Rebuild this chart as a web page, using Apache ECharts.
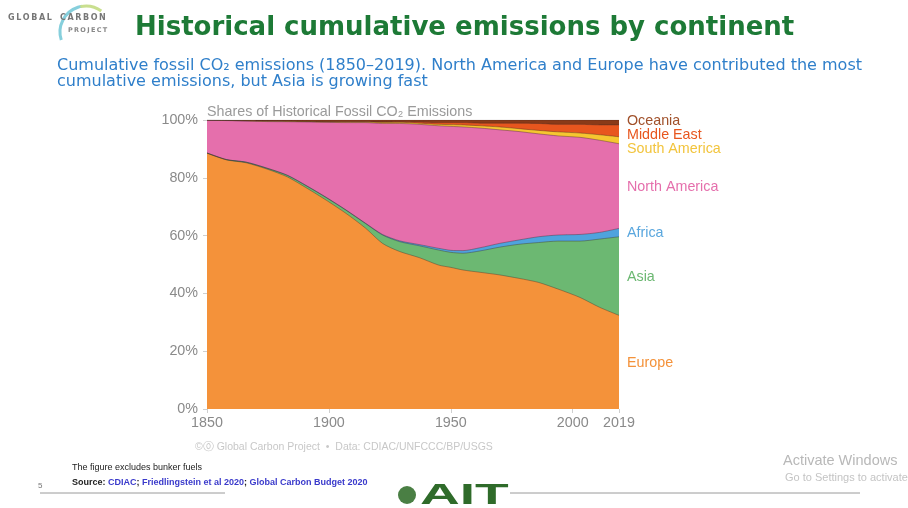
<!DOCTYPE html>
<html>
<head>
<meta charset="utf-8">
<script src="https://cdn.jsdelivr.net/npm/echarts@6/dist/echarts.min.js"></script>
<style>
  html, body { margin: 0; padding: 0; background: #fff; }
  #chart { width: 908px; height: 508px; }
</style>
</head>
<body>
<div id="chart"></div>
<script>
// Shares (%) of cumulative fossil CO2 emissions since 1850, by continent
const years        = [1850, 1858, 1866, 1875, 1883, 1891, 1899, 1907, 1915, 1922, 1929, 1937, 1945, 1950, 1955, 1962, 1970, 1978, 1986, 1994, 2003, 2011, 2019];
const europe       = [88.5, 86.2, 85.2, 82.9, 80.3, 76.4, 72.2, 67.7, 62.6, 57.3, 54.5, 52.4, 49.8, 49.0, 48.1, 47.3, 46.4, 45.2, 43.8, 41.5, 38.6, 35.2, 32.4];
const asia         = [0.1, 0.1, 0.2, 0.3, 0.5, 0.7, 0.9, 1.1, 1.6, 2.9, 3.4, 4.1, 5.2, 5.2, 5.8, 7.4, 9.6, 11.8, 13.8, 16.6, 19.5, 23.6, 27.2];
const africa       = [0, 0, 0.05, 0.05, 0.1, 0.1, 0.1, 0.1, 0.1, 0.2, 0.3, 0.4, 0.6, 0.7, 0.9, 1.1, 1.3, 1.5, 2.0, 2.1, 2.3, 2.3, 2.9];
const northAmerica = [11.3, 13.5, 14.2, 16.2, 18.5, 22.1, 26.0, 30.2, 34.8, 38.4, 40.6, 41.6, 42.4, 42.9, 42.8, 41.4, 39.3, 37.5, 35.6, 34.3, 33.6, 31.9, 29.3];
const southAmerica = [0, 0.05, 0.1, 0.2, 0.2, 0.2, 0.2, 0.3, 0.3, 0.4, 0.4, 0.4, 0.5, 0.6, 0.7, 0.8, 1.0, 1.0, 1.2, 1.4, 1.5, 1.9, 2.4];
const middleEast   = [0, 0, 0, 0, 0, 0, 0, 0, 0, 0.1, 0.2, 0.4, 0.6, 0.7, 0.8, 0.9, 1.3, 1.9, 2.4, 2.6, 3.0, 3.4, 4.1];
const oceania      = [0.1, 0.15, 0.25, 0.35, 0.4, 0.5, 0.6, 0.6, 0.6, 0.7, 0.6, 0.7, 0.9, 0.9, 0.9, 1.1, 1.1, 1.1, 1.2, 1.5, 1.5, 1.7, 1.7];

const xTickLabels = [1850, 1900, 1950, 2000, 2019];

// Layers listed from the bottom of the stack upwards
const layers = [
  { name: 'Europe',        values: europe,       color: '#f4923a', labelColor: '#f4923a', labelY: 362 },
  { name: 'Asia',          values: asia,         color: '#6cb872', labelColor: '#6cb872', labelY: 276 },
  { name: 'Africa',        values: africa,       color: '#4fa3dd', labelColor: '#5aa7de', labelY: 232 },
  { name: 'North America', values: northAmerica, color: '#e56fac', labelColor: '#e56fac', labelY: 186 },
  { name: 'South America', values: southAmerica, color: '#f6c630', labelColor: '#f2c43c', labelY: 148 },
  { name: 'Middle East',   values: middleEast,   color: '#e8561e', labelColor: '#e8561e', labelY: 134 },
  { name: 'Oceania',       values: oceania,      color: '#8a3a18', labelColor: '#a0502a', labelY: 120 }
];

// Running totals give the upper edge of each band; each band is filled down
// to 0% and painted top band first, so the lower bands cover the rest.
const running = years.map(() => 0);
const bandSeries = layers.map(l => {
  const top = l.values.map((v, i) => (running[i] += v));
  return {
    name: l.name,
    type: 'line',
    smooth: 0.25,
    symbol: 'none',
    data: years.map((y, i) => [y, +top[i].toFixed(3)]),
    lineStyle: { width: 0.7, color: 'rgba(60,40,40,0.55)' },
    areaStyle: { color: l.color, opacity: 1, origin: 'start' },
    emphasis: { disabled: true },
    silent: true
  };
}).reverse();

const chart = echarts.init(document.getElementById('chart'), null, { renderer: 'canvas' });

const sans = '"Liberation Sans", Arial, Helvetica, sans-serif';
const verdana = '"DejaVu Sans", Verdana, sans-serif';
const narrow = '"Liberation Sans Narrow", "Liberation Sans", sans-serif';
const spaced = s => s.split('').join('\u2009');

const graphics = [
  // Slide heading
  { type: 'text', left: 135, top: 15, style: { text: 'Historical cumulative emissions by continent', font: 'bold 26px ' + verdana, fill: '#1d7a36' } },
  { type: 'text', left: 57, top: 58, style: { text: 'Cumulative fossil CO\u2082 emissions (1850\u20132019). North America and Europe have contributed the most\ncumulative emissions, but Asia is growing fast', font: '16px ' + verdana, fill: '#2f7fca', lineHeight: 16 } },
  // Global Carbon Project logo
  { type: 'arc', shape: { cx: 86, cy: 32, r: 26, startAngle: Math.PI * 0.9, endAngle: Math.PI * 1.45 }, style: { stroke: '#86cfdc', lineWidth: 3, fill: null } },
  { type: 'arc', shape: { cx: 86, cy: 32, r: 26, startAngle: Math.PI * 1.43, endAngle: Math.PI * 1.7 }, style: { stroke: '#c9df8f', lineWidth: 3, fill: null } },
  { type: 'text', left: 8, top: 14, style: { text: spaced('GLOBAL'), font: 'bold 8px ' + verdana, fill: '#777' } },
  { type: 'text', left: 60, top: 14, style: { text: spaced('CARBON'), font: 'bold 8px ' + verdana, fill: '#777' } },
  { type: 'text', left: 68, top: 27, style: { text: spaced('PROJECT'), font: 'bold 6.5px ' + verdana, fill: '#888' } },
  // Chart heading and credit
  { type: 'text', left: 207, top: 105, style: { text: 'Shares of Historical Fossil CO\u2082 Emissions', font: '14.3px ' + sans, fill: '#9a9a9a' } },
  { type: 'text', left: 195, top: 442, style: { text: '\u00a9\u24ea Global Carbon Project  \u2022  Data: CDIAC/UNFCCC/BP/USGS', font: '10.5px ' + sans, fill: '#c8c8c8' } },
  // Footer
  { type: 'text', left: 72, top: 463, style: { text: 'The figure excludes bunker fuels', font: '9px ' + narrow, fill: '#222' } },
  { type: 'text', left: 72, top: 478, style: { rich: {
      s: { font: 'bold 9px ' + narrow, fill: '#222' },
      l: { font: 'bold 9px ' + narrow, fill: '#3a3acb' }
    }, text: '{s|Source: }{l|CDIAC}{s|; }{l|Friedlingstein et al 2020}{s|; }{l|Global Carbon Budget 2020}' } },
  { type: 'text', left: 38, top: 482, style: { text: '5', font: '8px ' + sans, fill: '#777' } },
  { type: 'line', shape: { x1: 40, y1: 493, x2: 225, y2: 493 }, style: { stroke: '#9a9a9a', lineWidth: 1 } },
  { type: 'line', shape: { x1: 510, y1: 493, x2: 860, y2: 493 }, style: { stroke: '#9a9a9a', lineWidth: 1 } },
  { type: 'circle', shape: { cx: 407, cy: 495, r: 9 }, style: { fill: '#4a7f44' } },
  { type: 'text', x: 420, y: 481, scaleX: 1.9, style: { text: 'AIT', font: 'bold 29px ' + sans, fill: '#2f6b2a' } },
  { type: 'text', left: 783, top: 453, style: { text: 'Activate Windows', font: '14.5px ' + sans, fill: '#b8b8b8' } },
  { type: 'text', left: 785, top: 472, style: { text: 'Go to Settings to activate', font: '11px ' + sans, fill: '#c4c4c4' } }
];

// Continent names beside the right edge of the plot
layers.forEach(l => {
  graphics.push({ type: 'text', left: 627, top: l.labelY - 6, style: { text: l.name, font: '14.3px ' + sans, fill: l.labelColor } });
});

chart.setOption({
  animation: false,
  backgroundColor: '#ffffff',
  grid: { left: 207, right: 289, top: 120, bottom: 99, containLabel: false },
  xAxis: {
    type: 'value',
    min: 1850,
    max: 2019,
    interval: 50,
    axisLine: { show: false },
    axisTick: { show: true, customValues: xTickLabels, length: 4, lineStyle: { color: '#cfcfcf' } },
    axisLabel: { customValues: xTickLabels, formatter: v => String(v), color: '#8a8a8a', fontSize: 14.3, fontFamily: sans, margin: 7 },
    splitLine: { show: false }
  },
  yAxis: {
    type: 'value',
    min: 0,
    max: 100,
    interval: 20,
    axisLine: { show: false },
    axisTick: { show: true, length: 4, lineStyle: { color: '#cfcfcf' } },
    axisLabel: { formatter: '{value}%', color: '#8a8a8a', fontSize: 14.3, fontFamily: sans, margin: 9 },
    splitLine: { show: false }
  },
  series: bandSeries,
  graphic: graphics
});
</script>
</body>
</html>
